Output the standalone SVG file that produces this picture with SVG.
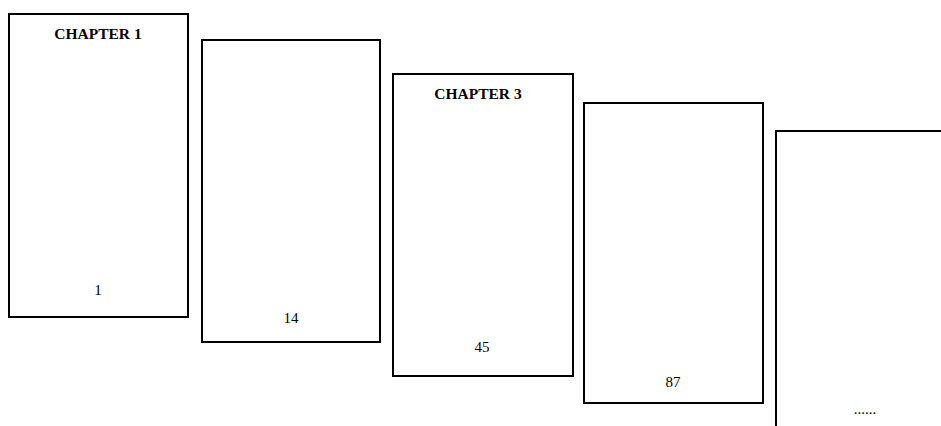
<svg xmlns="http://www.w3.org/2000/svg" width="941" height="426" viewBox="0 0 941 426">
<style>
.page{fill:#fff;stroke:#000;stroke-width:2}
.title{font-family:"Liberation Serif",serif;font-weight:bold;font-size:15.5px;text-anchor:middle;fill:#000}
.num{font-family:"Liberation Serif",serif;font-size:15px;text-anchor:middle;fill:#000}
</style>
<rect width="941" height="426" fill="#fff"/>
<g id="page1"><rect class="page" x="9" y="14" width="179" height="303"/><text class="title" x="98" y="39">CHAPTER 1</text><text class="num" x="98" y="295">1</text></g>
<g id="page2"><rect class="page" x="202" y="40" width="178" height="302"/><text class="num" x="291" y="323">14</text></g>
<g id="page3"><rect class="page" x="393" y="74" width="180" height="302"/><text class="title" x="478" y="99">CHAPTER 3</text><text class="num" x="482" y="352">45</text></g>
<g id="page4"><rect class="page" x="584" y="103" width="179" height="300"/><text class="num" x="673" y="387">87</text></g>
<g id="page5"><path class="page" d="M776,430 V131 H945" fill="none"/><text class="num" x="865" y="414">......</text></g>
<g id="connectors"></g>
</svg>
